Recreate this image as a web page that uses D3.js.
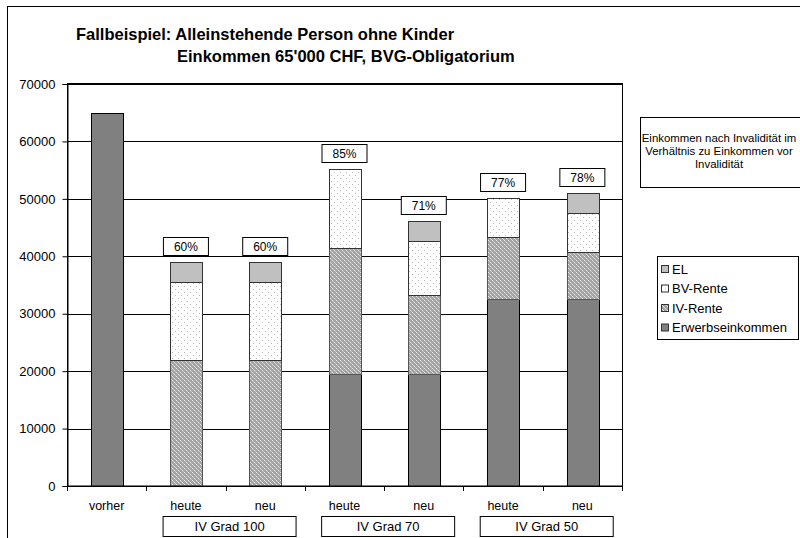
<!DOCTYPE html>
<html>
<head>
<meta charset="utf-8">
<script src="https://cdn.jsdelivr.net/npm/d3@7"></script>
<style>
  body { margin: 0; background: #fff; }
  svg { display: block; font-family: "Liberation Sans", Arial, sans-serif; }
</style>
</head>
<body>
<div class="chart"></div>
<script>
// values
const catLabels = ["vorher", "heute", "neu", "heute", "neu", "heute", "neu"];
const erwerb  = [65000, 0, 0, 19500, 19500, 32500, 32500];
const ivRente = [0, 22000, 22000, 21900, 13750, 10900, 8300];
const bvRente = [0, 13500, 13500, 13850, 9450, 6800, 6800];
const el      = [0, 3500, 3500, 0, 3500, 0, 3500];
const pctLabels = ["", "60%", "60%", "85%", "71%", "77%", "78%"];
const groups = [
  {name: "IV Grad 100", from: 1, to: 2},
  {name: "IV Grad 70", from: 3, to: 4},
  {name: "IV Grad 50", from: 5, to: 6}
];
const yTicks = [0, 10000, 20000, 30000, 40000, 50000, 60000, 70000];
const seriesNames = ["Erwerbseinkommen", "IV-Rente", "BV-Rente", "EL"];

const width = 800, height = 538;
const svg = d3.select(".chart").append("svg")
  .attr("width", width).attr("height", height)
  .attr("viewBox", [0, 0, width, height]);

// patterns like the excel fills
const defs = svg.append("defs");
const pIv = defs.append("pattern").attr("id", "pIv")
  .attr("width", 4).attr("height", 4).attr("patternUnits", "userSpaceOnUse");
pIv.append("rect").attr("width", 4).attr("height", 4).attr("fill", "#a4a4a4");
pIv.append("rect").attr("x", 0).attr("y", 0).attr("width", 1).attr("height", 1).attr("fill", "#e4e4e4");
pIv.append("rect").attr("x", 2).attr("y", 2).attr("width", 1).attr("height", 1).attr("fill", "#e4e4e4");
pIv.append("rect").attr("x", 1).attr("y", 1).attr("width", 1).attr("height", 1).attr("fill", "#cfcfcf");
pIv.append("rect").attr("x", 3).attr("y", 3).attr("width", 1).attr("height", 1).attr("fill", "#cfcfcf");

const pBv = defs.append("pattern").attr("id", "pBv")
  .attr("width", 6).attr("height", 6).attr("patternUnits", "userSpaceOnUse");
pBv.append("rect").attr("width", 6).attr("height", 6).attr("fill", "#fff");
pBv.append("rect").attr("x", 1).attr("y", 1).attr("width", 1).attr("height", 1).attr("fill", "#bbb");
pBv.append("rect").attr("x", 4).attr("y", 4).attr("width", 1).attr("height", 1).attr("fill", "#bbb");

const fills = {"Erwerbseinkommen": "#808080", "IV-Rente": "url(#pIv)", "BV-Rente": "url(#pBv)", "EL": "#c0c0c0"};
const strokes = {"Erwerbseinkommen": "#000", "IV-Rente": "#555", "BV-Rente": "#333", "EL": "#333"};

// outer chart frame
svg.append("rect").attr("x", 7.5).attr("y", 6.5).attr("width", 900).attr("height", 600)
  .attr("fill", "none").attr("stroke", "#000");

// title
svg.append("text").attr("x", 76).attr("y", 40)
  .attr("font-size", 16.5).attr("font-weight", "bold")
  .text("Fallbeispiel: Alleinstehende Person ohne Kinder");
svg.append("text").attr("x", 177).attr("y", 62)
  .attr("font-size", 16.5).attr("font-weight", "bold")
  .text("Einkommen 65'000 CHF, BVG-Obligatorium");

const plotL = 67, plotR = 622, plotT = 84, plotB = 486;
const x = d3.scaleBand().domain(d3.range(catLabels.length)).range([plotL, plotR]);
const y = d3.scaleLinear().domain([0, 70000]).range([plotB, plotT]);
const bw = x.bandwidth() * 0.4;

// plot area + grid
svg.append("rect").attr("x", plotL).attr("y", plotT).attr("width", plotR - plotL).attr("height", plotB - plotT)
  .attr("fill", "#fff");
svg.append("g").selectAll("line").data(yTicks).join("line")
  .attr("x1", plotL).attr("x2", plotR)
  .attr("y1", d => Math.round(y(d)) + 0.5).attr("y2", d => Math.round(y(d)) + 0.5)
  .attr("stroke", "#000");

// stacked bars
const rows = catLabels.map((c, i) => ({i, "Erwerbseinkommen": erwerb[i], "IV-Rente": ivRente[i], "BV-Rente": bvRente[i], "EL": el[i]}));
const stack = d3.stack().keys(seriesNames)(rows);

svg.append("g").selectAll("g").data(stack).join("g")
  .attr("fill", d => fills[d.key]).attr("stroke", d => strokes[d.key])
  .selectAll("rect").data(d => d.filter(s => s[1] - s[0] > 0)).join("rect")
  .attr("x", d => Math.round(x(d.data.i) + (x.bandwidth() - bw) / 2) + 0.5)
  .attr("y", d => Math.round(y(d[1])) + 0.5)
  .attr("width", Math.round(bw))
  .attr("height", d => Math.round(y(d[0])) - Math.round(y(d[1])));

// frame of plot area
svg.append("rect").attr("x", plotL + 0.5).attr("y", plotT - 0.5).attr("width", plotR - plotL).attr("height", plotB - plotT + 0.5)
  .attr("fill", "none").attr("stroke", "#000");

// y axis
const yAxis = svg.append("g").attr("transform", `translate(${plotL + 0.5},0)`)
  .call(d3.axisLeft(y).tickValues(yTicks).tickFormat(d3.format("d")).tickSize(5).tickPadding(7));
yAxis.select(".domain").attr("stroke", "#000");
yAxis.selectAll("text").attr("font-size", 13).attr("font-family", "Liberation Sans, Arial, sans-serif").attr("fill", "#000");

// x axis: ticks at category borders, labels in the middle
svg.append("g").selectAll("line").data(d3.range(catLabels.length + 1)).join("line")
  .attr("x1", d => Math.round(plotL + d * x.step()) + 0.5).attr("x2", d => Math.round(plotL + d * x.step()) + 0.5)
  .attr("y1", plotB).attr("y2", plotB + 5).attr("stroke", "#000");
svg.append("line").attr("x1", plotL).attr("x2", plotR).attr("y1", plotB + 0.5).attr("y2", plotB + 0.5).attr("stroke", "#000");
svg.append("g").selectAll("text").data(catLabels).join("text")
  .attr("x", (d, i) => x(i) + x.bandwidth() / 2).attr("y", 510)
  .attr("text-anchor", "middle").attr("font-size", 12.5).text(d => d);

// group boxes under the axis
const gb = svg.append("g").selectAll("g").data(groups).join("g")
  .attr("transform", g => `translate(${(x(g.from) + x(g.to) + x.bandwidth()) / 2 + 4},0)`);
gb.append("rect").attr("x", -66.5).attr("y", 516.5).attr("width", 133).attr("height", 20)
  .attr("fill", "#fff").attr("stroke", "#000");
gb.append("text").attr("y", 531).attr("text-anchor", "middle").attr("font-size", 13).text(g => g.name);

// percentage labels above the bars
const totals = rows.map(r => r["Erwerbseinkommen"] + r["IV-Rente"] + r["BV-Rente"] + r["EL"]);
const pl = svg.append("g").selectAll("g").data(pctLabels.map((p, i) => ({p, i})).filter(d => d.p)).join("g")
  .attr("transform", d => `translate(${x(d.i) + x.bandwidth() / 2},${Math.round(y(totals[d.i])) - 6})`);
pl.append("rect").attr("x", -22.5).attr("y", -18.5).attr("width", 45).attr("height", 18)
  .attr("fill", "#fff").attr("stroke", "#000");
pl.append("text").attr("y", -5).attr("text-anchor", "middle").attr("font-size", 12).text(d => d.p);

// annotation box
svg.append("rect").attr("x", 640.5).attr("y", 117.5).attr("width", 200).attr("height", 70)
  .attr("fill", "#fff").attr("stroke", "#000");
svg.append("text").attr("text-anchor", "middle").attr("font-size", 11.4)
  .selectAll("tspan").data(["Einkommen nach Invalidität im", "Verhältnis zu Einkommen vor", "Invalidität"]).join("tspan")
  .attr("x", 719).attr("y", (d, i) => 142 + i * 13).text(d => d);

// legend
const legend = svg.append("g");
legend.append("rect").attr("x", 657.5).attr("y", 256.5).attr("width", 141).attr("height", 83)
  .attr("fill", "#fff").attr("stroke", "#000");
const li = legend.selectAll("g").data(seriesNames.slice().reverse()).join("g")
  .attr("transform", (d, i) => `translate(661,${265 + i * 19.5})`);
li.append("rect").attr("x", 0.5).attr("y", 0.5).attr("width", 7).attr("height", 7)
  .attr("fill", d => fills[d]).attr("stroke", "#333");
li.append("text").attr("x", 11).attr("y", 8.5).attr("font-size", 13).text(d => d);
</script>
</body>
</html>
